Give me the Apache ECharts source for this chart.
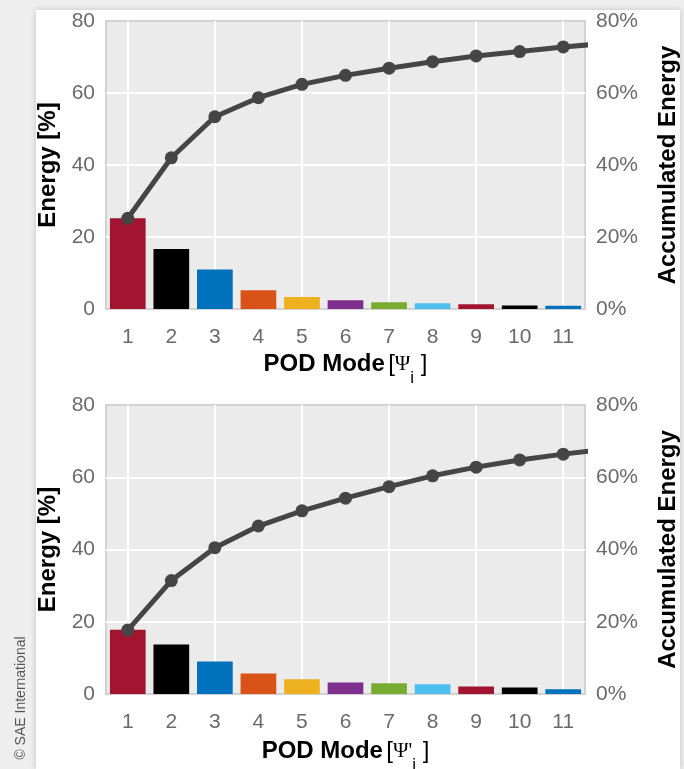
<!DOCTYPE html>
<html>
<head>
<meta charset="utf-8">
<script src="https://cdn.jsdelivr.net/npm/echarts@6/dist/echarts.min.js"></script>
<style>
  html, body { margin: 0; padding: 0; background: #eeeeee; }
  #card { position: absolute; left: 36px; top: 10px; width: 644px; height: 759px;
          background: #fff; box-shadow: 0 0 6px rgba(0,0,0,0.18); }
  #container { position: absolute; left: 0; top: 0; width: 684px; height: 769px; }
</style>
</head>
<body>
<div id="card"></div>
<div id="container"></div>
<script>
// POD modes 1..11
var modes = ['1', '2', '3', '4', '5', '6', '7', '8', '9', '10', '11'];
var modeColors = ['#A2142F', '#000000', '#0072BD', '#D95319', '#EDB120', '#7E2F8E',
                  '#77AC30', '#4DBEEE', '#A2142F', '#000000', '#0072BD'];

// upper plot: Psi_i
var topEnergy = [25.2, 16.7, 11.0, 5.2, 3.3, 2.4, 1.9, 1.6, 1.3, 1.0, 0.9];
var topAccum = [25.2, 42.0, 53.4, 58.7, 62.4, 64.9, 66.9, 68.7, 70.3, 71.5, 72.8, 73.8];

// lower plot: Psi'_i
var bottomEnergy = [17.8, 13.7, 9.0, 5.7, 4.1, 3.2, 3.0, 2.7, 2.1, 1.8, 1.3];
var bottomAccum = [17.7, 31.4, 40.5, 46.5, 50.7, 54.2, 57.4, 60.4, 62.8, 64.8, 66.4, 67.8];

// vertical white grid lines sit on the odd modes
var vGridModes = [1, 3, 5, 7, 9, 11];

var dom = document.getElementById('container');
var myChart = echarts.init(dom);

var font = 'Liberation Sans, Arial, sans-serif';
var gridLine = ['#d2d2d2', '#ffffff', '#ffffff', '#ffffff', '#d2d2d2'];
var tickColor = '#6a6a6a';

var nameRich = {
    b: { fontFamily: font, fontWeight: 'bold', fontSize: 24, color: '#000', lineHeight: 30 },
    r: { fontFamily: font, fontSize: 24, color: '#000', lineHeight: 30 },
    psi: { fontFamily: 'Liberation Serif, serif', fontSize: 21, color: '#000', lineHeight: 30 },
    sub: { fontFamily: font, fontSize: 17, color: '#000', lineHeight: 46, verticalAlign: 'bottom' }
};

var grids = [
    { left: 106, right: 99, top: 21, height: 288 },
    { left: 106, right: 99, top: 405, height: 289 }
];

var xAxes = [], yAxes = [], series = [];
var names = ['{b|POD Mode} {r|[}{psi|Ψ}{sub|i}{r| ]}', "{b|POD Mode} {r|[}{psi|Ψ'}{sub|i}{r| ]}"];
var energies = [topEnergy, bottomEnergy];
var accums = [topAccum, bottomAccum];

grids.forEach(function (g, i) {
    g.show = true;
    g.backgroundColor = '#ebebeb';
    g.borderColor = '#d2d2d2';
    g.borderWidth = 2;
    g.outerBoundsMode = 'none';
    g.containLabel = false;

    // category axis for bars
    xAxes.push({
        type: 'category', gridIndex: i, data: modes,
        axisLine: { show: false }, axisTick: { show: false },
        splitLine: { show: false },
        axisLabel: { color: tickColor, fontSize: 21, fontFamily: font, margin: 18 },
        name: names[i], nameLocation: 'middle', nameGap: i === 0 ? 32 : 34,
        nameTextStyle: { rich: nameRich }
    });
    // value axis for the cumulative line (same positions as categories)
    xAxes.push({
        type: 'value', gridIndex: i, min: 0.5, max: 11.5, show: false,
        splitLine: { show: false }
    });
    yAxes.push({
        type: 'value', gridIndex: i, min: 0, max: 80, interval: 20,
        axisLine: { show: false }, axisTick: { show: false },
        axisLabel: { color: tickColor, fontSize: 21, fontFamily: font, margin: 11 },
        splitLine: { show: true, lineStyle: { color: gridLine, width: 2 } },
        name: 'Energy [%]', nameLocation: 'middle', nameGap: 45, nameRotate: 90,
        nameTextStyle: { fontFamily: font, fontWeight: 'bold', fontSize: 24, color: '#000' }
    });
    yAxes.push({
        type: 'value', gridIndex: i, position: 'right', min: 0, max: 80, interval: 20,
        axisLine: { show: false }, axisTick: { show: false }, splitLine: { show: false },
        axisLabel: { color: tickColor, fontSize: 21, fontFamily: font, margin: 11, formatter: '{value}%' },
        name: 'Accumulated Energy', nameLocation: 'middle', nameGap: 71, nameRotate: 90,
        nameTextStyle: { fontFamily: font, fontWeight: 'bold', fontSize: 24, color: '#000' }
    });

    series.push({
        type: 'bar', xAxisIndex: i * 2, yAxisIndex: i * 2, z: 2,
        barCategoryGap: '18%',
        data: energies[i].map(function (v, k) {
            return { value: v, itemStyle: { color: modeColors[k] } };
        })
    });
    series.push({
        type: 'line', xAxisIndex: i * 2 + 1, yAxisIndex: i * 2 + 1, z: 3,
        clip: true,
        symbol: 'circle', symbolSize: 13,
        lineStyle: { color: '#454545', width: 5 },
        itemStyle: { color: '#454545' },
        data: accums[i].map(function (v, k) { return [k + 1, v]; }),
        markLine: {
            silent: true, symbol: 'none', z: 1, animation: false,
            label: { show: false },
            lineStyle: { color: '#ffffff', width: 2, type: 'solid' },
            data: vGridModes.map(function (m) { return { xAxis: m }; })
        }
    });
});

var option = {
    animation: false,
    grid: grids,
    xAxis: xAxes,
    yAxis: yAxes,
    series: series,
    graphic: [{
        type: 'text', x: 21, y: 698, rotation: Math.PI / 2,
        style: {
            text: '© SAE International', fontFamily: font, fontSize: 14,
            fill: '#555', align: 'center', verticalAlign: 'middle'
        }
    }]
};
myChart.setOption(option);
</script>
</body>
</html>
